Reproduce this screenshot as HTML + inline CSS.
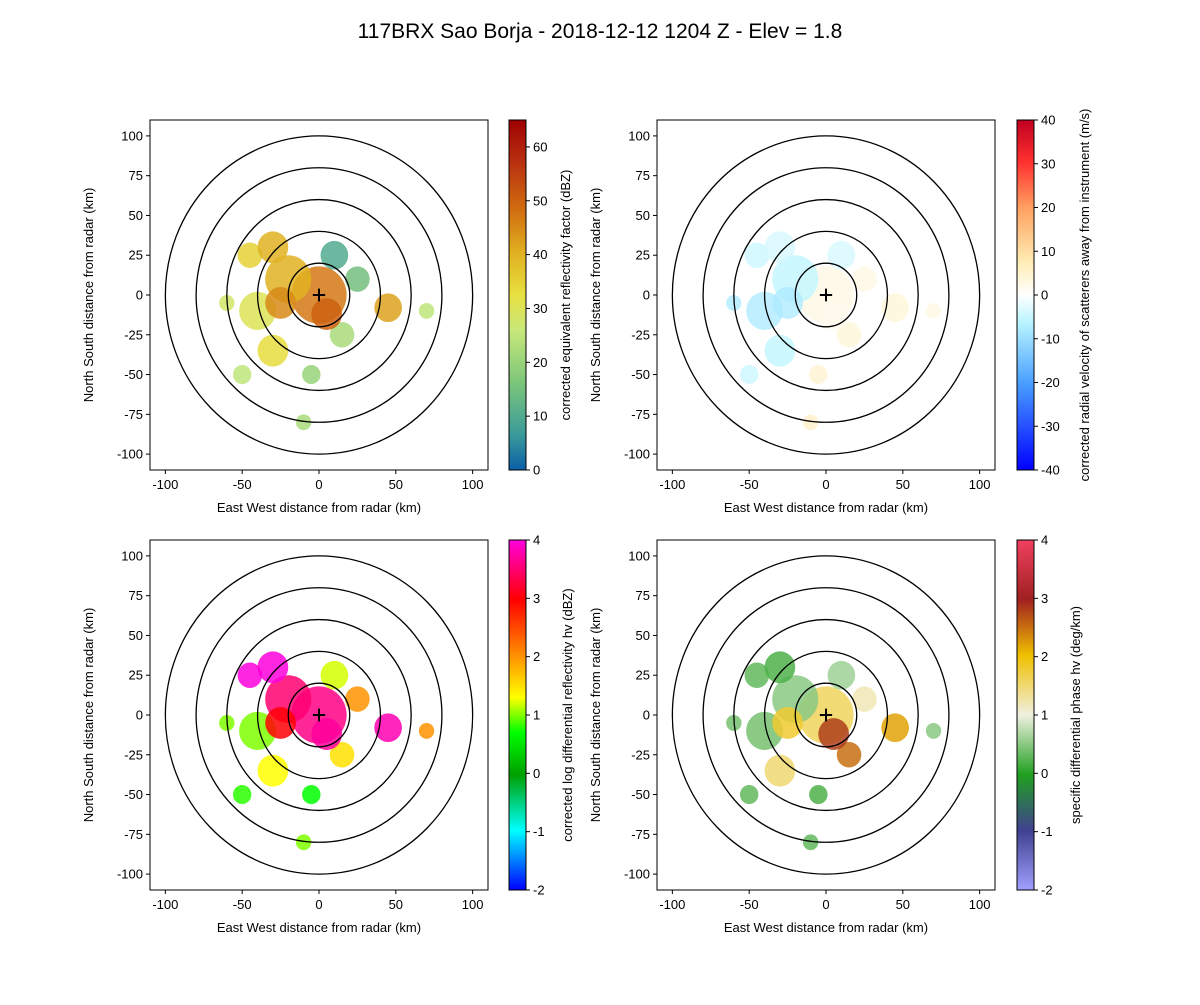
<!DOCTYPE html>
<html><head><meta charset="utf-8">
<style>
body{margin:0;background:#fff;}
svg text{font-family:"Liberation Sans","DejaVu Sans",sans-serif;}
</style></head>
<body>
<svg id="fig" width="1200" height="1000" xmlns="http://www.w3.org/2000/svg">
<rect width="1200" height="1000" fill="#fff"/>
<text x="600" y="38" font-size="21" text-anchor="middle">117BRX Sao Borja - 2018-12-12 1204 Z -  Elev = 1.8</text>
<defs>
<linearGradient id="g-refl" x1="0" y1="1" x2="0" y2="0">
<stop offset="0" stop-color="#0a5fa8"/><stop offset="0.1" stop-color="#3a9a9a"/><stop offset="0.25" stop-color="#7cc67a"/><stop offset="0.4" stop-color="#c8e87a"/><stop offset="0.5" stop-color="#e8e040"/><stop offset="0.62" stop-color="#e0b020"/><stop offset="0.75" stop-color="#d06a10"/><stop offset="0.88" stop-color="#b83010"/><stop offset="1" stop-color="#a00000"/>
</linearGradient>
<linearGradient id="g-vel" x1="0" y1="1" x2="0" y2="0">
<stop offset="0" stop-color="#0000ff"/><stop offset="0.25" stop-color="#4aa0ff"/><stop offset="0.42" stop-color="#b8f4ff"/><stop offset="0.5" stop-color="#ffffff"/><stop offset="0.6" stop-color="#ffeab0"/><stop offset="0.75" stop-color="#ffa060"/><stop offset="0.88" stop-color="#ff3030"/><stop offset="1" stop-color="#c00020"/>
</linearGradient>
<linearGradient id="g-zdr" x1="0" y1="1" x2="0" y2="0">
<stop offset="0" stop-color="#0000ff"/><stop offset="0.17" stop-color="#00ffff"/><stop offset="0.33" stop-color="#00a000"/><stop offset="0.45" stop-color="#00ff00"/><stop offset="0.55" stop-color="#ffff00"/><stop offset="0.67" stop-color="#ff9000"/><stop offset="0.83" stop-color="#ff0000"/><stop offset="1" stop-color="#ff00dd"/>
</linearGradient>
<linearGradient id="g-kdp" x1="0" y1="1" x2="0" y2="0">
<stop offset="0" stop-color="#a0a0ff"/><stop offset="0.17" stop-color="#404090"/><stop offset="0.33" stop-color="#20a020"/><stop offset="0.5" stop-color="#f0f0e0"/><stop offset="0.67" stop-color="#f0c000"/><stop offset="0.83" stop-color="#a02020"/><stop offset="1" stop-color="#f04060"/>
</linearGradient>
</defs>
<g id="panels"></g>
</svg>
<script>
// echo patch geometry (km) and per-field values
const patchX=[0,-20,-45,-40,-30,-50,45,70,-5,-10,10,15,-30,-25,5,-60,25];
const patchY=[0,10,25,-10,-35,-50,-8,-10,-50,-80,25,-25,30,-5,-12,-5,10];
const patchR=[18,15,8,12,10,6,9,5,6,5,9,8,10,10,10,5,8];
const reflVals=[47,40,35,30,33,25,42,25,20,22,10,22,40,45,50,28,15];
const velVals=[3,-6,-5,-8,-6,-5,4,3,5,6,-4,4,-4,-8,2,-8,3];
const zdrVals=[3.6,3.5,4,1,1.3,0.8,3.8,2,0.7,1,1.2,1.5,4,3,3.7,1,2];
const kdpVals=[1.6,0.5,0.3,0.4,1.5,0.3,2.2,0.5,0.2,0.3,0.6,2.5,0.2,1.8,2.8,0.4,1.2];
const ringRadii=[20,40,60,80,100];
const axTicks=[-100,-75,-50,-25,0,25,50,75,100];
const xTicks=[-100,-50,0,50,100];

const NS="http://www.w3.org/2000/svg";
const root=document.getElementById('panels');
function mk(t,a,p){const e=document.createElementNS(NS,t);for(const k in a)e.setAttribute(k,a[k]);(p||root).appendChild(e);return e;}
function lerp(a,b,t){return a+(b-a)*t;}
function hex(c){return [parseInt(c.slice(1,3),16),parseInt(c.slice(3,5),16),parseInt(c.slice(5,7),16)];}
function cmap(stops,t){t=Math.max(0,Math.min(1,t));for(let i=1;i<stops.length;i++){if(t<=stops[i][0]){const a=stops[i-1],b=stops[i];const f=(t-a[0])/(b[0]-a[0]||1);const ca=hex(a[1]),cb=hex(b[1]);return `rgb(${ca.map((v,j)=>Math.round(lerp(v,cb[j],f))).join(',')})`;}}return stops[stops.length-1][1];}
const maps={
refl:[[0,'#0a5fa8'],[0.1,'#3a9a9a'],[0.25,'#7cc67a'],[0.4,'#c8e87a'],[0.5,'#e8e040'],[0.62,'#e0b020'],[0.75,'#d06a10'],[0.88,'#b83010'],[1,'#a00000']],
vel:[[0,'#0000ff'],[0.25,'#4aa0ff'],[0.42,'#b8f4ff'],[0.5,'#ffffff'],[0.6,'#ffeab0'],[0.75,'#ffa060'],[0.88,'#ff3030'],[1,'#c00020']],
zdr:[[0,'#0000ff'],[0.17,'#00ffff'],[0.33,'#00a000'],[0.45,'#00ff00'],[0.55,'#ffff00'],[0.67,'#ff9000'],[0.83,'#ff0000'],[1,'#ff00dd']],
kdp:[[0,'#a0a0ff'],[0.17,'#404090'],[0.33,'#20a020'],[0.5,'#f0f0e0'],[0.67,'#f0c000'],[0.83,'#a02020'],[1,'#f04060']]};

const panels=[
{name:'reflectivity',x0:150,y0:120,vals:reflVals,map:'refl',vmin:0,vmax:65,cticks:[0,10,20,30,40,50,60],grad:'g-refl',label:'corrected equivalent reflectivity factor (dBZ)',cbx:509,lx:570},
{name:'velocity',x0:657,y0:120,vals:velVals,map:'vel',vmin:-40,vmax:40,cticks:[-40,-30,-20,-10,0,10,20,30,40],grad:'g-vel',label:'corrected radial velocity of scatterers away from instrument (m/s)',cbx:1017,lx:1089},
{name:'zdr',x0:150,y0:540,vals:zdrVals,map:'zdr',vmin:-2,vmax:4,cticks:[-2,-1,0,1,2,3,4],grad:'g-zdr',label:'corrected log differential reflectivity hv (dBZ)',cbx:509,lx:572},
{name:'kdp',x0:657,y0:540,vals:kdpVals,map:'kdp',vmin:-2,vmax:4,cticks:[-2,-1,0,1,2,3,4],grad:'g-kdp',label:'specific differential phase hv (deg/km)',cbx:1017,lx:1080}];
const W=338,H=350;
panels.forEach(p=>{
  const g=mk('g',{});
  
  
  const sx=k=>p.x0+(k+110)*W/220, sy=k=>p.y0+(110-k)*H/220;
  const clipId='clip-'+p.name;
  const cp=mk('clipPath',{id:clipId},g);mk('rect',{x:p.x0,y:p.y0,width:W,height:H},cp);
  const data=mk('g',{'clip-path':`url(#${clipId})`},g);
  
  
  patchX.forEach((px,i)=>{
    const e=mk('ellipse',{cx:sx(px),cy:sy(patchY[i]),rx:patchR[i]*W/220,ry:patchR[i]*H/220,fill:cmap(maps[p.map],(p.vals[i]-p.vmin)/(p.vmax-p.vmin)),opacity:p.map==='vel'?0.75:0.85},data);
    
    
  });
  ringRadii.forEach(r=>{
    const c=mk('ellipse',{cx:sx(0),cy:sy(0),rx:r*W/220,ry:r*H/220,fill:'none',stroke:'#000','stroke-width':1.3},g);
    
    
  });
  mk('path',{d:`M${sx(-4)},${sy(0)}H${sx(4)}M${sx(0)},${sy(-4)}V${sy(4)}`,stroke:'#000','stroke-width':2},g);
  const fr=mk('rect',{x:p.x0,y:p.y0,width:W,height:H,fill:'none',stroke:'#000','stroke-width':1},g);
  
  
  xTicks.forEach(t=>{
    mk('line',{x1:sx(t),x2:sx(t),y1:p.y0+H,y2:p.y0+H+4,stroke:'#000'},g);
    const tx=mk('text',{x:sx(t),y:p.y0+H+19,'font-size':13,'text-anchor':'middle'},g);tx.textContent=t;
    
    
  });
  axTicks.forEach(t=>{
    mk('line',{x1:p.x0-4,x2:p.x0,y1:sy(t),y2:sy(t),stroke:'#000'},g);
    const tx=mk('text',{x:p.x0-7,y:sy(t)+4.5,'font-size':13,'text-anchor':'end'},g);tx.textContent=t;
    
    
  });
  const xl=mk('text',{x:p.x0+W/2,y:p.y0+H+42,'font-size':13,'text-anchor':'middle'},g);xl.textContent='East West distance from radar (km)';
  
  
  const yl=mk('text',{x:0,y:0,'font-size':13,'text-anchor':'middle',transform:`translate(${p.x0-57},${p.y0+H/2}) rotate(-90)`},g);yl.textContent='North South distance from radar (km)';
  
  
  // colorbar
  const cb=mk('rect',{x:p.cbx,y:p.y0,width:17,height:H,fill:`url(#${p.grad})`,stroke:'#000','stroke-width':1},g);
  
  
  p.cticks.forEach(t=>{
    const y=p.y0+H-(t-p.vmin)/(p.vmax-p.vmin)*H;
    mk('line',{x1:p.cbx+17,x2:p.cbx+21,y1:y,y2:y,stroke:'#000'},g);
    const tx=mk('text',{x:p.cbx+24,y:y+4.5,'font-size':13},g);tx.textContent=t;
    
    
  });
  const cl=mk('text',{x:0,y:0,'font-size':13,'text-anchor':'middle',transform:`translate(${p.lx},${p.y0+H/2}) rotate(-90)`},g);cl.textContent=p.label;
  
  
});
</script>
</body></html>
